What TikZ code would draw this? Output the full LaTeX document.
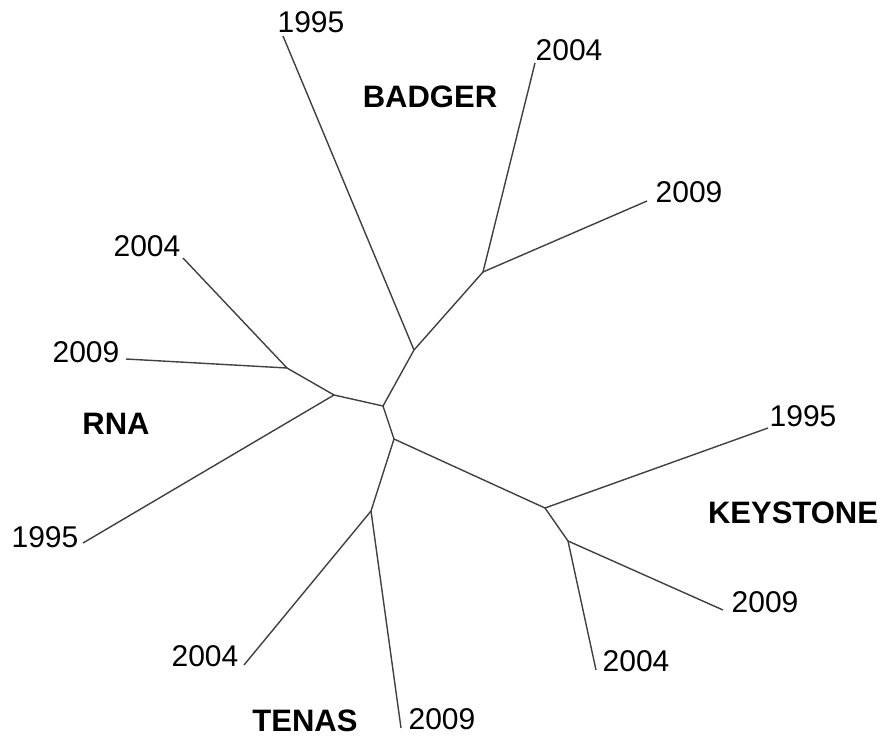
\documentclass[tikz,border=0pt]{standalone}
\usepackage{fontspec}
\setmainfont{Liberation Sans}
\begin{document}
\begin{tikzpicture}[x=1pt,y=-1pt,
  edge/.style={draw=black!75,line width=1.4pt},
  yr/.style={inner sep=0pt,font=\fontsize{30}{36}\selectfont},
  grp/.style={inner sep=0pt,font=\fontsize{31}{37}\selectfont\bfseries}]
\useasboundingbox (0,0) rectangle (882,739);
% internal nodes
\coordinate (c0) at (383,406);
\coordinate (c1) at (414,350);
\coordinate (b) at (483,272);
\coordinate (r1) at (334,395);
\coordinate (r2) at (287,368);
\coordinate (c2) at (394,439);
\coordinate (t) at (371,511);
\coordinate (k1) at (545,508);
\coordinate (k2) at (568,541);
% leaf ends
\coordinate (lb95) at (283,36);
\coordinate (lb04) at (535,63);
\coordinate (lb09) at (647,201);
\coordinate (lr04) at (183,258);
\coordinate (lr09) at (126,359);
\coordinate (lr95) at (83,543);
\coordinate (lt04) at (244,665);
\coordinate (lt09) at (401,728);
\coordinate (lk95) at (768,428);
\coordinate (lk09) at (723,610);
\coordinate (lk04) at (596,670);
% edges
\draw[edge] (c0) -- (c1);
\draw[edge] (c1) -- (lb95);
\draw[edge] (c1) -- (b);
\draw[edge] (b) -- (lb04);
\draw[edge] (b) -- (lb09);
\draw[edge] (c0) -- (r1);
\draw[edge] (r1) -- (r2);
\draw[edge] (r2) -- (lr04);
\draw[edge] (r2) -- (lr09);
\draw[edge] (r1) -- (lr95);
\draw[edge] (c0) -- (c2);
\draw[edge] (c2) -- (t);
\draw[edge] (t) -- (lt04);
\draw[edge] (t) -- (lt09);
\draw[edge] (c2) -- (k1);
\draw[edge] (k1) -- (lk95);
\draw[edge] (k1) -- (k2);
\draw[edge] (k2) -- (lk09);
\draw[edge] (k2) -- (lk04);
% year labels
\node[yr] (tb95) at (311,22) {1995};
\node[yr] (tb04) at (569,50) {2004};
\node[yr] (tb09) at (689,192) {2009};
\node[yr] (tr04) at (147,246) {2004};
\node[yr] (tr09) at (86,352) {2009};
\node[yr] (tr95) at (45,537) {1995};
\node[yr] (tt04) at (205,656) {2004};
\node[yr] (tt09) at (442,719) {2009};
\node[yr] (tk95) at (803,416) {1995};
\node[yr] (tk09) at (765,602) {2009};
\node[yr] (tk04) at (636,661) {2004};
% group labels
\node[grp] (gb) at (430,97) {BADGER};
\node[grp] (gr) at (116,424) {RNA};
\node[grp] (gt) at (305,721) {TENAS};
\node[grp] (gk) at (793,513) {KEYSTONE};
\end{tikzpicture}
\end{document}
